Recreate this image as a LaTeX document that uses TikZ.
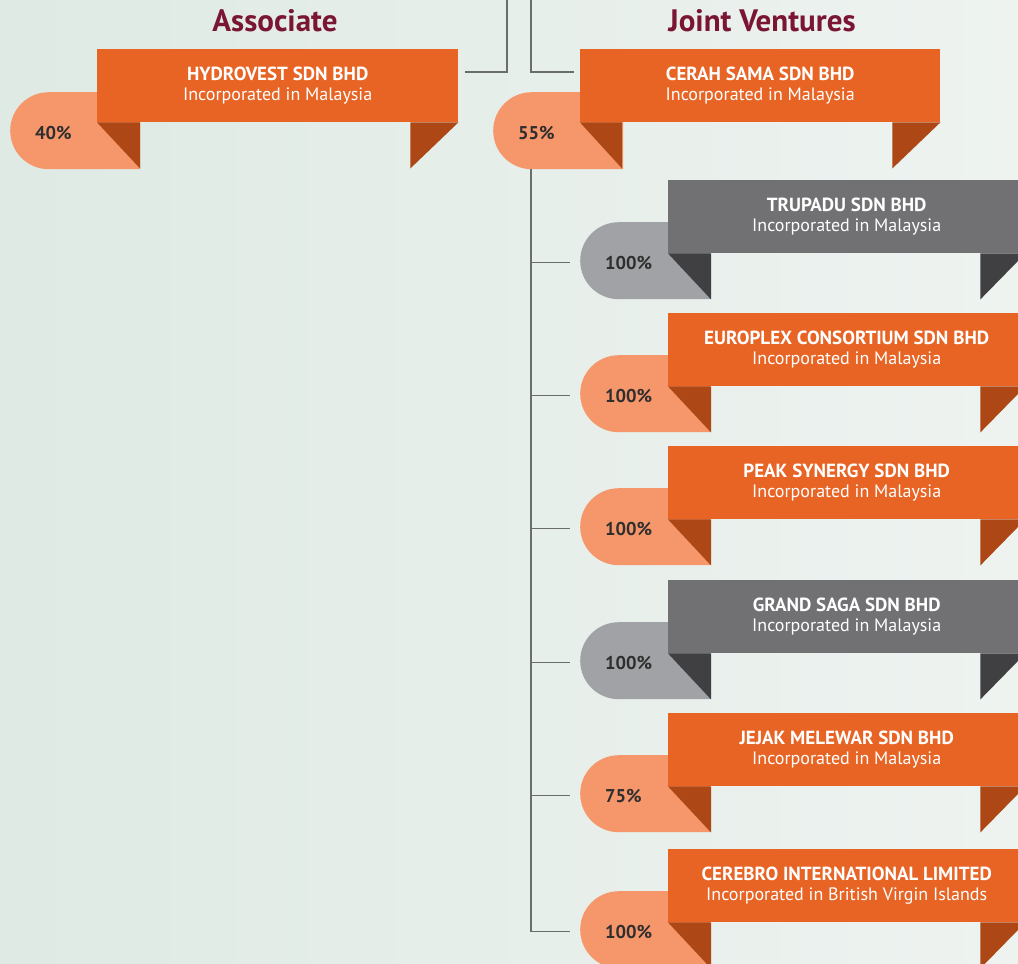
\documentclass[tikz,border=0pt]{standalone}
\usepackage{fontspec}
\setmainfont{PT Sans}
\usepackage{tikz}
\usetikzlibrary{positioning,calc}

\definecolor{bannerorg}{HTML}{E86425}
\definecolor{foldorg}{HTML}{AD4816}
\definecolor{pillorg}{HTML}{F6966B}
\definecolor{bannergry}{HTML}{717174}
\definecolor{foldgry}{HTML}{404042}
\definecolor{pillgry}{HTML}{A1A2A5}
\definecolor{titlered}{HTML}{7A1533}
\definecolor{linegry}{HTML}{6B6C6E}
\definecolor{pcttext}{HTML}{2E2E2E}
\definecolor{bgleft}{HTML}{DFEAE4}
\definecolor{bgright}{HTML}{EEF3F0}

\tikzstyle{title}=[anchor=base, text=titlered, font=\fontsize{31}{34}\selectfont\bfseries]
\tikzstyle{banner}=[anchor=north west, minimum height=73pt, inner sep=0pt, align=center, text=white, font=\fontsize{18}{20.5}\selectfont]
\tikzstyle{link}=[draw=linegry, line width=1.3pt]
\newcommand{\firmname}[1]{{\fontsize{19}{20.5}\selectfont\bfseries #1}}
\tikzset{
  pill/.style={anchor=north west, minimum height=77pt, inner xsep=25pt, inner ysep=0pt,
    text width=80pt, text height=18pt, text depth=0pt, align=left, text=pcttext,
    font=\fontsize{18.5}{20}\selectfont\bfseries,
    path picture={\fill[#1] (path picture bounding box.north east)
      -- ([xshift=38.5pt]path picture bounding box.north west)
      arc[start angle=90, end angle=270, radius=38.5pt]
      -- (path picture bounding box.south east) -- cycle;}}
}

\begin{document}
\begin{tikzpicture}[x=1pt, y=1pt]

            % Page and background
            \useasboundingbox (0,0) rectangle (1018,-964);
            \shade[left color=bgleft, right color=bgright] (0,0) rectangle (1018,-964);

            % Headings
            \node[title] (assoc) at (275,-31) {Associate};
            \node[title] (jv) at (762,-31) {Joint Ventures};

            % Lines from above
            \coordinate (upleft) at (507,0);
            \coordinate (upright) at (531,0);

            % Associate
            \node[pill=pillorg] (hydrovest-pct) at (10,-92) {40\%};
            \node[banner, fill=bannerorg, minimum width=361pt] (hydrovest) at (97,-49)
                {\firmname{HYDROVEST SDN BHD}\\Incorporated in Malaysia};
            \fill[foldorg] (hydrovest.south west) -- ++(43,0) -- ++(0,-46) -- cycle;
            \fill[foldorg] (hydrovest.south east) -- ++(-48,0) -- ++(0,-46) -- cycle;
            \draw[link] (upleft) |- ($(hydrovest.north east)+(7,-23)$);

            % Joint venture
            \node[pill=pillorg] (cerah-pct) at (493,-92) {55\%};
            \node[banner, fill=bannerorg, minimum width=360pt] (cerah) at (580,-49)
                {\firmname{CERAH SAMA SDN BHD}\\Incorporated in Malaysia};
            \fill[foldorg] (cerah.south west) -- ++(42,0) -- ++(0,-46) -- cycle;
            \fill[foldorg] (cerah.south east) -- ++(-48,0) -- ++(0,-46) -- cycle;
            \draw[link] (upright) |- ($(cerah.north west)+(-6,-23)$);
            \coordinate (trunk) at ($(cerah-pct.south west)+(38,0)$);

            % Subsidiaries of the joint venture
            \foreach \top/\kind/\id/\firm/\place/\pct in {
                180/gry/trupadu/TRUPADU SDN BHD/Malaysia/100,
                313/org/europlex/EUROPLEX CONSORTIUM SDN BHD/Malaysia/100,
                446/org/peak/PEAK SYNERGY SDN BHD/Malaysia/100,
                580/gry/grandsaga/GRAND SAGA SDN BHD/Malaysia/100,
                713/org/jejak/JEJAK MELEWAR SDN BHD/Malaysia/75,
                849/org/cerebro/CEREBRO INTERNATIONAL LIMITED/British Virgin Islands/100} {
                \node[pill=pill\kind] (\id-pct) at (580,-\top-42) {\pct\%};
                \node[banner, fill=banner\kind, minimum width=357pt] (\id) at (668,-\top)
                    {\firmname{\firm}\\Incorporated in \place};
                \fill[fold\kind] (\id.south west) -- ++(43,0) -- ++(0,-46) -- cycle;
                \fill[fold\kind] (\id.south east) -- ++(-45,0) -- ++(0,-46) -- cycle;
                \draw[link] (trunk) |- ([xshift=-10pt, yshift=-2pt]\id-pct.west);
            }

        \end{tikzpicture}
\end{document}
